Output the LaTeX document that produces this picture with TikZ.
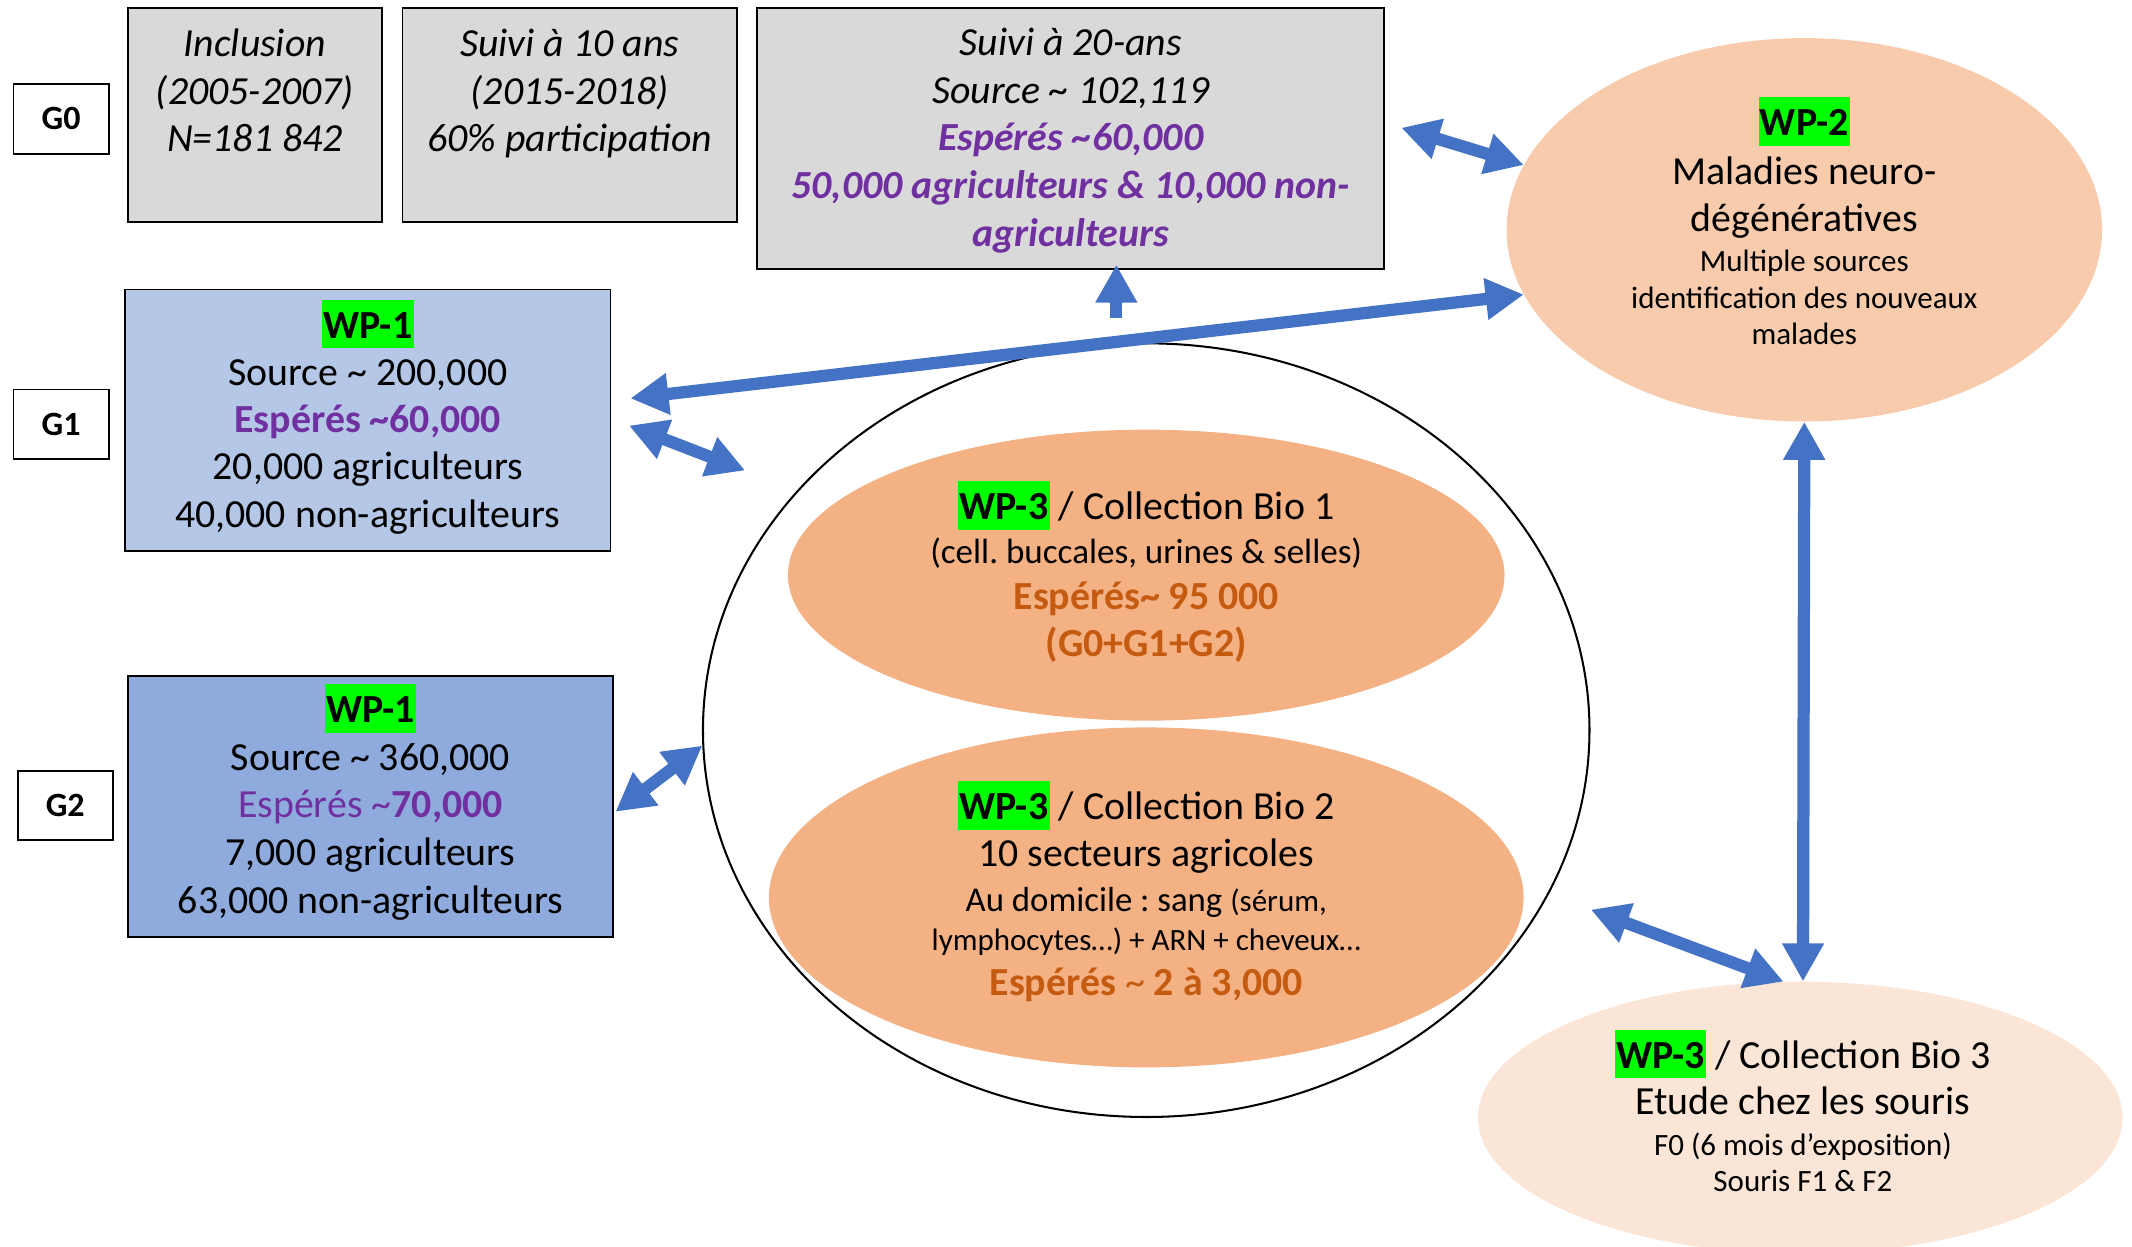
\documentclass[tikz,border=0pt]{standalone}
\usepackage{fontspec}
\setmainfont{Carlito}
\usetikzlibrary{arrows.meta,shapes.geometric,calc}
\definecolor{grayfill}{HTML}{D9D9D9}
\definecolor{gonefill}{HTML}{B4C7E7}
\definecolor{gtwofill}{HTML}{8FAADC}
\definecolor{wptwofill}{HTML}{F8CBAD}
\definecolor{biofill}{HTML}{F4B183}
\definecolor{biothreefill}{HTML}{FBE5D6}
\definecolor{arrowblue}{HTML}{4472C4}
\definecolor{purpletxt}{HTML}{7030A0}
\definecolor{orangetxt}{HTML}{C55A11}
\definecolor{hlgreen}{HTML}{00FF00}
\newcommand\bigf{\fontsize{29.3}{34}\selectfont}
\newcommand\smallf{\fontsize{22.8}{27}\selectfont}
\newcommand\midf{\fontsize{25.6}{30}\selectfont}
\newcommand\cellf{\fontsize{25.8}{30}\selectfont}
\newcommand\gf{\fontsize{25}{30}\selectfont\bfseries}
\newcommand\wplab[1]{{\setlength\fboxsep{0pt}\colorbox{hlgreen}{\rule[-0.25em]{0pt}{1.22em}\kern1pt\textbf{#1}\kern1pt}}}
\frenchspacing
\begin{document}
\begin{tikzpicture}[x=1pt,y=-1pt,
  box/.style={draw=black,line width=1.3pt,inner sep=0pt},
  glab/.style={box,fill=white,minimum width=70pt,minimum height=51pt,font=\gf},
  tl/.style={anchor=base,inner sep=0pt,font=\bigf},
  sl/.style={anchor=base,inner sep=0pt,font=\smallf},
  ell/.style={ellipse,inner sep=0pt},
  blk/.style={draw=arrowblue,line width=9pt,{Triangle[length=28pt 0 0,width=29pt 0 0]}-{Triangle[length=28pt 0 0,width=29pt 0 0]}},
  blkone/.style={draw=arrowblue,line width=9pt,-{Triangle[length=28pt 0 0,width=29pt 0 0]}}
]
\fill[white] (0,0) rectangle (1568,917);
\useasboundingbox (0,0) rectangle (1568,917);

% row G0
\node[glab] (g0) at (45,87.5) {G0};
\node[box,fill=grayfill,minimum width=187pt,minimum height=157pt] (inc) at (187.5,84.5) {};
\node[box,fill=grayfill,minimum width=246pt,minimum height=157pt] (s10) at (419,84.5) {};
\node[box,fill=grayfill,minimum width=461pt,minimum height=192pt] (s20) at (787.5,102) {};

\node[tl,font=\bigf\itshape] (inc1) at (187.5,41.5) {Inclusion};
\node[tl,font=\bigf\itshape] (inc2) at (187.5,76.5) {(2005-2007)};
\node[tl,font=\bigf\itshape] (inc3) at (187.5,111.5) {N=181 842};

\node[tl,font=\bigf\itshape] (s101) at (419,41.5) {Suivi à 10 ans};
\node[tl,font=\bigf\itshape] (s102) at (419,76.5) {(2015-2018)};
\node[tl,font=\bigf\itshape] (s103) at (419,111.5) {60\% participation};

\node[tl,font=\bigf\itshape] (s201) at (787.5,40.5) {Suivi à 20-ans};
\node[tl,font=\bigf\itshape] (s202) at (787.5,76) {Source \textasciitilde{} 102,119};
\node[tl,font=\bigf\itshape\bfseries,text=purpletxt] (s203) at (787.5,111) {Espérés \textasciitilde60,000};
\node[tl,font=\bigf\itshape\bfseries,text=purpletxt] (s204) at (787.5,146) {50,000 agriculteurs \& 10,000 non-};
\node[tl,font=\bigf\itshape\bfseries,text=purpletxt] (s205) at (787.5,181.5) {agriculteurs};

% row G1
\node[glab] (g1lab) at (45,312) {G1};
\node[box,fill=gonefill,minimum width=357pt,minimum height=192pt] (g1) at (270.5,309) {};
\node[tl] (g1t1) at (270.5,248.8) {\wplab{WP-1}};
\node[tl] (g1t2) at (270.5,283.5) {Source \textasciitilde{} 200,000};
\node[tl,font=\bigf\bfseries,text=purpletxt] (g1t3) at (270.5,318.3) {Espérés \textasciitilde60,000};
\node[tl] (g1t4) at (270.5,353) {20,000 agriculteurs};
\node[tl] (g1t5) at (270.5,387.8) {40,000 non-agriculteurs};

% row G2
\node[glab] (g2lab) at (48,592.5) {G2};
\node[box,fill=gtwofill,minimum width=357pt,minimum height=192pt] (g2) at (272.5,593) {};
\node[tl] (g2t1) at (272.5,531.5) {\wplab{WP-1}};
\node[tl] (g2t2) at (272.5,566.5) {Source \textasciitilde{} 360,000};
\node[tl,text=purpletxt] (g2t3) at (272.5,601.5) {Espérés \textasciitilde\textbf{70,000}};
\node[tl] (g2t4) at (272.5,636.5) {7,000 agriculteurs};
\node[tl] (g2t5) at (272.5,671.5) {63,000 non-agriculteurs};

% central ellipses
\node[ell,draw=black,line width=1.5pt,fill=white,minimum width=652pt,minimum height=569pt] (big) at (843,537) {};
\node[ell,fill=biofill,minimum width=527pt,minimum height=214pt] (bio1) at (843,423) {};
\node[ell,fill=biofill,minimum width=555pt,minimum height=250pt] (bio2) at (843,660) {};

\node[tl] (b1t1) at (843,382.4) {\wplab{WP-3} / Collection Bio 1};
\node[tl,font=\cellf] (b1t2) at (843,414.3) {(cell. buccales, urines \& selles)};
\node[tl,font=\bigf\bfseries,text=orangetxt] (b1t3) at (843,448.1) {Espérés\textasciitilde{} 95 000};
\node[tl,font=\bigf\bfseries,text=orangetxt] (b1t4) at (843,483) {(G0+G1+G2)};

\node[tl] (b2t1) at (843,603) {\wplab{WP-3} / Collection Bio 2};
\node[tl] (b2t2) at (843,637.4) {10 secteurs agricoles};
\node[tl,font=\midf] (b2t3) at (843,670) {Au domicile : sang {\smallf(sérum,}};
\node[sl] (b2t4) at (843,698.7) {lymphocytes…) + ARN + cheveux…};
\node[tl,text=orangetxt] (b2t5) at (843,731.8) {\textbf{Espérés} \textasciitilde{} \textbf{2 à 3,000}};

% WP-2 ellipse
\node[ell,fill=wptwofill,minimum width=438pt,minimum height=282pt] (wp2) at (1327,169) {};
\node[tl] (w2t1) at (1327,100) {\wplab{WP-2}};
\node[tl] (w2t2) at (1327,136) {Maladies neuro-};
\node[tl] (w2t3) at (1327,170.4) {dégénératives};
\node[sl] (w2t4) at (1327,199.8) {Multiple sources};
\node[sl] (w2t5) at (1327,226.8) {identification des nouveaux};
\node[sl] (w2t6) at (1327,253.7) {malades};

% Bio 3 ellipse
\node[ell,fill=biothreefill,minimum width=474pt,minimum height=200pt] (bio3) at (1324,822) {};
\node[tl] (b3t1) at (1326,785.7) {\wplab{WP-3} / Collection Bio 3};
\node[tl] (b3t2) at (1326,820) {Etude chez les souris};
\node[sl] (b3t3) at (1326,849.5) {F0 (6 mois d’exposition)};
\node[sl] (b3t4) at (1326,876.4) {Souris F1 \& F2};

% arrows
\draw[blk] ($(s20.east)+(12,-8)$) -- (wp2.167);
\draw[blk] ($(g1.east)+(14,-16)$) -- (wp2.193);
\coordinate (upfoot) at (821,234);
\draw[blkone] (upfoot) -- ($(s20.south)+(33.5,-4)$);
\draw[blk] ($(g1.east)+(13,4)$) -- ($(big.center)+(-295,-191)$);
\draw[blk] ($(g2.east)+(1,4)$) -- (big.182);
\draw[blk] (wp2.south) -- ($(bio3.north)+(2,0)$);
\draw[blk] ($(big.center)+(327,132)$) -- (bio3.97);
\end{tikzpicture}
\end{document}
